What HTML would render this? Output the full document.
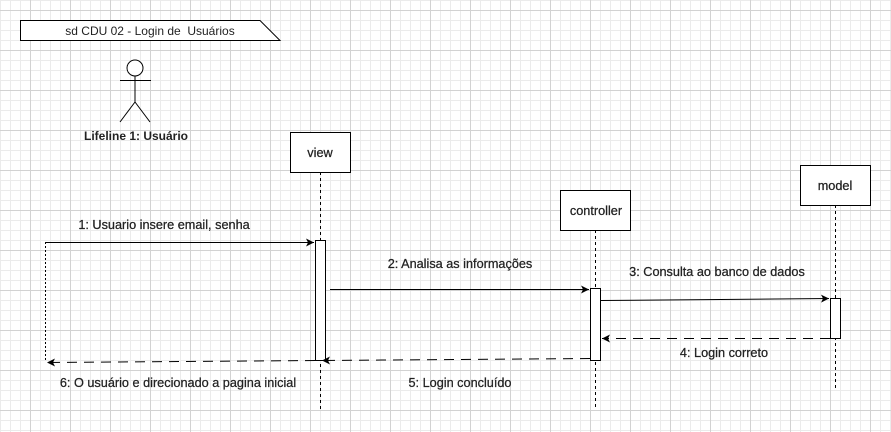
<!DOCTYPE html>
<html><head><meta charset="utf-8"><style>
html,body{margin:0;padding:0;background:#fff}
body{width:891px;height:432px;overflow:hidden;
background-image:
linear-gradient(to right,#d2d2d2 1px,transparent 1px),
linear-gradient(to bottom,#d2d2d2 1px,transparent 1px),
linear-gradient(to right,#ebebeb 1px,transparent 1px),
linear-gradient(to bottom,#ebebeb 1px,transparent 1px);
background-size:40px 40px,40px 40px,10px 10px,10px 10px;
background-position:30px 0,0 10px,0 0,0 0;}
svg{position:absolute;left:0;top:0}
text{font-family:"Liberation Sans",sans-serif;font-size:12px;fill:#222}
.m{font-size:12.7px;stroke:#222;stroke-width:0.25}
</style></head><body>
<svg width="891" height="432" viewBox="0 0 891 432">
<defs>
<marker id="a" markerWidth="10" markerHeight="10" refX="9" refY="5" orient="auto" markerUnits="userSpaceOnUse">
<path d="M1,1 L9,5 L1,9 L3,5 Z" fill="#000"/></marker>
</defs>
<path d="M20.5,20.5 H260 L280,40.5 H20.5 Z" fill="#fff" stroke="#000"/>
<text x="150" y="35" text-anchor="middle" xml:space="preserve" style="white-space:pre">sd CDU 02 - Login de  Usuários</text>
<g stroke="#000" fill="none" stroke-width="1">
<circle cx="135" cy="68" r="8" fill="#fff"/>
<line x1="135" y1="76" x2="135" y2="102"/>
<line x1="120" y1="80.5" x2="151" y2="80.5"/>
<line x1="135" y1="102" x2="120" y2="122"/>
<line x1="135" y1="102" x2="150" y2="122"/>
</g>
<text x="136" y="140" text-anchor="middle" font-weight="bold">Lifeline 1: Usuário</text>
<g stroke="#000" stroke-dasharray="3,3">
<line x1="320.5" y1="172" x2="320.5" y2="410"/>
<line x1="595.5" y1="230" x2="595.5" y2="410"/>
<line x1="835.5" y1="205" x2="835.5" y2="390"/>
<line x1="45.5" y1="242" x2="45.5" y2="360" stroke-dasharray="2,2"/>
</g>
<g stroke="#000" fill="#fff">
<rect x="290.5" y="132.5" width="60" height="40"/>
<rect x="560.5" y="190.5" width="70" height="40"/>
<rect x="800.5" y="165.5" width="70" height="40"/>
<rect x="315.5" y="240.5" width="10" height="120"/>
<rect x="590.5" y="288.5" width="10" height="72"/>
<rect x="830.5" y="298.5" width="10" height="40"/>
</g>
<text class="m" x="320" y="157" text-anchor="middle">view</text>
<text class="m" x="596" y="215" text-anchor="middle">controller</text>
<text class="m" x="835" y="190" text-anchor="middle">model</text>
<g stroke="#000" fill="none">
<line x1="45" y1="242.5" x2="314" y2="242.5" marker-end="url(#a)"/>
<line x1="330" y1="289.5" x2="589" y2="289.5" marker-end="url(#a)"/>
<line x1="601" y1="300.5" x2="829" y2="298.5" marker-end="url(#a)"/>
<line x1="830" y1="338.5" x2="602" y2="338.5" stroke-dasharray="10,7" marker-end="url(#a)"/>
<line x1="590" y1="358.5" x2="322" y2="360.5" stroke-dasharray="10,7" marker-end="url(#a)"/>
<line x1="315" y1="360.5" x2="47" y2="362.5" stroke-dasharray="10,7" marker-end="url(#a)"/>
</g>
<text class="m" x="164" y="229" text-anchor="middle">1: Usuario insere email, senha</text>
<text class="m" x="460" y="268" text-anchor="middle">2: Analisa as informações</text>
<text class="m" x="717" y="276" text-anchor="middle">3: Consulta ao banco de dados</text>
<text class="m" x="724" y="357" text-anchor="middle">4: Login correto</text>
<text class="m" x="460" y="387" text-anchor="middle">5: Login concluído</text>
<text class="m" x="178" y="387" text-anchor="middle">6: O usuário e direcionado a pagina inicial</text>
</svg>
</body></html>
